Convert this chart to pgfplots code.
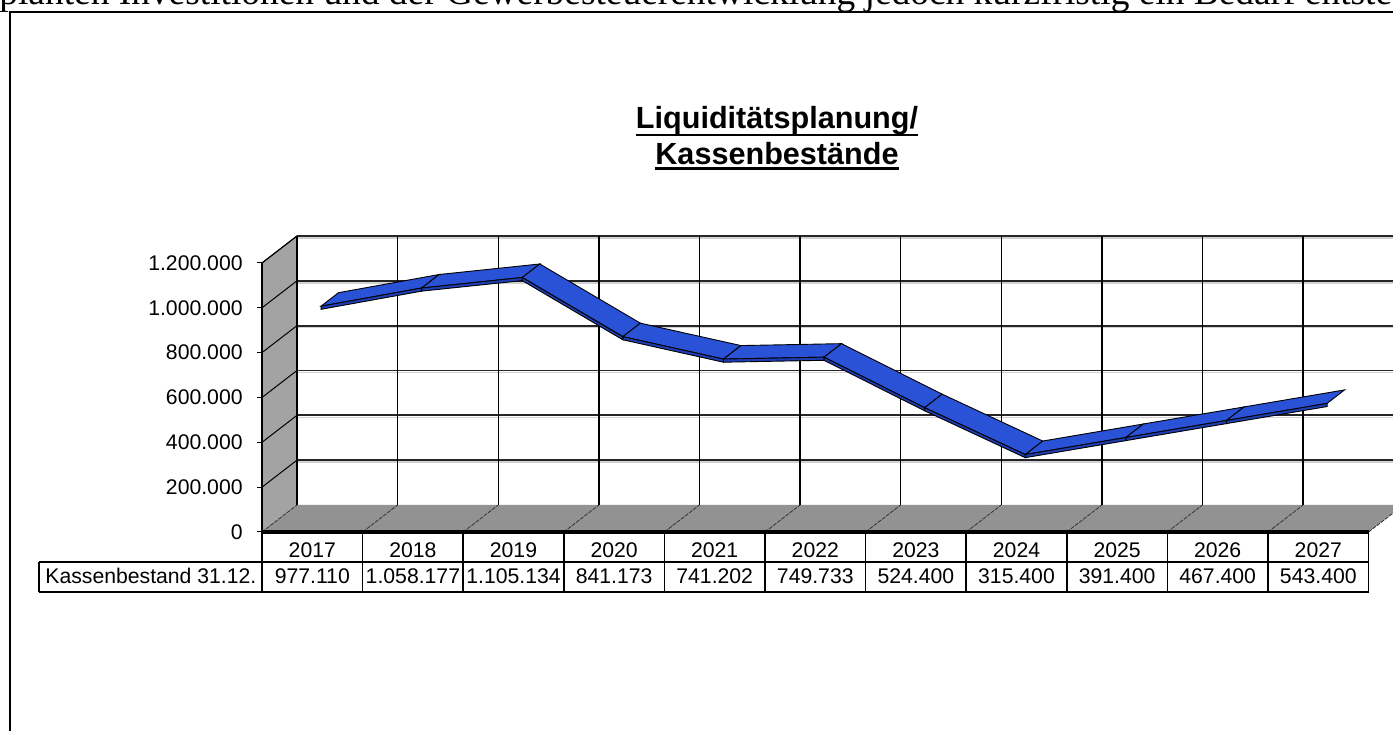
\documentclass[border=0pt]{standalone}
\usepackage{fontspec}
\setmainfont{Liberation Sans}
\newfontfamily\seriffont{Liberation Serif}
\usepackage{pgfplots}
\usepackage{pgfplotstable}
\pgfplotsset{compat=1.18}

\definecolor{sidegrey}{RGB}{163,163,163}
\definecolor{floorgrey}{RGB}{146,146,146}
\definecolor{ribbonblue}{RGB}{41,82,214}

\pgfplotstableread{
year v
2017 977110
2018 1058177
2019 1105134
2020 841173
2021 741202
2022 749733
2023 524400
2024 315400
2025 391400
2026 467400
2027 543400
}\kasse
\pgfplotstablevertcat{\ribbon}{\kasse}
\pgfplotstablevertcat{\ribbon}{\kasse}
\pgfplotstablecreatecol[create col/expr={\thisrow{year}-2016.5}]{px}\ribbon
\pgfplotstablecreatecol[create col/expr={\pgfplotstablerow<11 ? 0.25 : 0.75}]{py}\ribbon
\pgfplotstablecreatecol[create col/expr={0.25}]{pf}\ribbon
\pgfplotstablecreatecol[create col/expr={\thisrow{v}/1000}]{pz}\ribbon
\pgfplotstablecreatecol[create col/expr={\thisrow{v}/1000-(\pgfplotstablerow<11 ? 0 : 14)}]{pzf}\ribbon

\begin{document}
\begin{tikzpicture}
\useasboundingbox (0,0) rectangle (696.5pt,-365.5pt);
\clip (0,0) rectangle (696.5pt,-365.5pt);
\begin{axis}[
  at={(131pt,-266pt)}, anchor=origin,
  x={(50.3pt,0pt)}, y={(17.5pt,13.5pt)}, z={(0pt,0.1121pt)},
  xmin=0, xmax=11, ymin=0, ymax=1, zmin=0, zmax=1200,
  hide axis, clip=false,
]
% walls
\fill[sidegrey] (axis cs:0,0,0) -- (axis cs:0,1,0) -- (axis cs:0,1,1200) -- (axis cs:0,0,1200) -- cycle;
\fill[floorgrey] (axis cs:0,0,0) -- (axis cs:11,0,0) -- (axis cs:11,1,0) -- (axis cs:0,1,0) -- cycle;
\pgfplotsinvokeforeach{200,400,600,800,1000,1200}{
  \draw[gray!35, line width=0.8pt] ([yshift=-1pt]axis cs:0,1,#1) -- ([yshift=-1pt]axis cs:11,1,#1);
  \draw[black!85, line width=0.9pt] (axis cs:0,1,#1) -- (axis cs:11,1,#1);
  \draw[black, line width=0.5pt] (axis cs:0,0,#1) -- (axis cs:0,1,#1);
}
\pgfplotsinvokeforeach{0,1,2,3,4,5,6,7,8,9,10,11}{
  \draw[black, line width=0.7pt] (axis cs:#1,1,0) -- (axis cs:#1,1,1200);
  \draw[black!80, line width=0.4pt, dash pattern=on 2pt off 0.6pt] (axis cs:#1,0,0) -- (axis cs:#1,1,0);
}
\pgfplotsinvokeforeach{0,200,400,600,800,1000,1200}{
  \draw[black, line width=0.5pt] (axis cs:0,0,#1) -- ++(-2.5pt,0pt);
}
\draw[black, line width=1pt] (axis cs:0,0,0) -- (axis cs:0,0,1200);
\draw[black, line width=0.5pt] (axis cs:0,0,1200) -- (axis cs:0,1,1200);
% tick labels
\begin{scope}[font=\fontsize{10.6}{12}\selectfont]
\node[anchor=east, inner sep=0pt, xshift=-9.5pt] at (axis cs:0,0,0) {0};
\node[anchor=east, inner sep=0pt, xshift=-9.5pt] at (axis cs:0,0,200) {200.000};
\node[anchor=east, inner sep=0pt, xshift=-9.5pt] at (axis cs:0,0,400) {400.000};
\node[anchor=east, inner sep=0pt, xshift=-9.5pt] at (axis cs:0,0,600) {600.000};
\node[anchor=east, inner sep=0pt, xshift=-9.5pt] at (axis cs:0,0,800) {800.000};
\node[anchor=east, inner sep=0pt, xshift=-9.5pt] at (axis cs:0,0,1000) {1.000.000};
\node[anchor=east, inner sep=0pt, xshift=-9.5pt] at (axis cs:0,0,1200) {1.200.000};
\end{scope}
% ribbon top face
\addplot3[surf, shader=faceted, faceted color=black, line width=0.45pt,
  colormap={rb}{rgb255=(41,82,214) rgb255=(41,82,214)}, mesh/cols=11]
  table[x=px, y=py, z=pz] {\ribbon};
% ribbon front face (thickness)
\addplot3[surf, shader=faceted, faceted color=black, line width=0.45pt,
  colormap={rs}{rgb255=(30,62,180) rgb255=(30,62,180)}, mesh/cols=11]
  table[x=px, y=pf, z=pzf] {\ribbon};
\end{axis}

\begin{scope}[x=0.5pt, y=-0.5pt]
% outer frame
\draw[line width=1pt] (10,740) -- (10,12.5) -- (1400,12.5);
% cropped text above frame (cut off at the top, as in the original page)
\node[anchor=base west, inner sep=0pt, font=\seriffont\fontsize{18.7}{20}\selectfont] at (-1,5)
  {planten Investitionen und der Gewerbesteuerentwicklung jedoch kurzfristig ein Bedarf entste};
% title
\node[anchor=base, inner sep=0pt, font=\bfseries\fontsize{15.3}{18}\selectfont] (t1) at (777,129) {Liquiditätsplanung/};
\node[anchor=base, inner sep=0pt, font=\bfseries\fontsize{15.3}{18}\selectfont] (t2) at (777,165) {Kassenbestände};
\draw[line width=1.3pt] ([yshift=-3pt]t1.base west) -- ([yshift=-3pt]t1.base east);
\draw[line width=1.3pt] ([yshift=-1.8pt]t2.base west) -- ([yshift=-1.8pt]t2.base east);
% data table
\draw[line width=0.75pt] (39,562) -- (1368.6,562);
\draw[line width=0.75pt] (39,592) -- (1368.6,592);
\draw[line width=0.75pt] (39,562) -- (39,592);
\foreach \k in {0,...,11} {
  \draw[line width=0.75pt] ({262+100.6*\k},532) -- ({262+100.6*\k},592);
}
\draw[line width=1.6pt] (262,532) -- (1368.6,532);
\node[anchor=base west, inner sep=0pt, font=\fontsize{10.6}{12}\selectfont] at (45,584) {Kassenbestand 31.12.};
\foreach \yr/\val [count=\i from 0] in {2017/977.110, 2018/1.058.177, 2019/1.105.134, 2020/841.173, 2021/741.202, 2022/749.733, 2023/524.400, 2024/315.400, 2025/391.400, 2026/467.400, 2027/543.400} {
  \node[anchor=base, inner sep=0pt, font=\fontsize{10.6}{12}\selectfont] at ({262+100.6*(\i+0.5)},558) {\yr};
  \node[anchor=base, inner sep=0pt, font=\fontsize{10.6}{12}\selectfont] at ({262+100.6*(\i+0.5)},584) {\val};
}
\end{scope}
\end{tikzpicture}
\end{document}
